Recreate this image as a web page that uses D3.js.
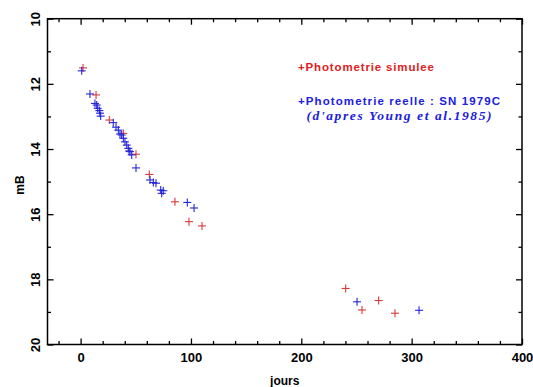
<!DOCTYPE html>
<html><head><meta charset="utf-8">
<script src="https://cdn.jsdelivr.net/npm/d3@7/dist/d3.min.js"></script>
<style>body{margin:0;background:#fff}svg{display:block}</style>
</head><body>
<svg id="c" width="533" height="387"></svg>
<script>
// Simulated photometry (red)
const simDays = [2.2, 14.0, 26.0, 38.7, 50.2, 62.3, 85.5, 98.2, 110.0, 240.2, 255.0, 270.1, 284.9];
const simMag  = [11.51, 12.34, 13.11, 13.52, 14.16, 14.78, 15.62, 16.23, 16.36, 18.28, 18.94, 18.65, 19.04];
// Real photometry SN 1979C (blue)
const obsDays = [1.0, 8.5, 13.0, 14.6, 15.5, 17.0, 17.6, 18.2, 29.6, 32.1, 34.2, 35.7, 37.2, 38.7, 40.2, 41.8, 43.2, 43.9, 44.8, 46.3, 50.2, 62.9, 65.9, 68.3, 72.6, 74.9, 73.5, 96.7, 102.8, 250.5, 306.7];
const obsMag  = [11.60, 12.31, 12.60, 12.65, 12.75, 12.82, 12.90, 12.99, 13.19, 13.33, 13.42, 13.54, 13.57, 13.67, 13.78, 13.88, 13.98, 14.06, 14.08, 14.18, 14.58, 14.95, 15.03, 15.05, 15.26, 15.28, 15.36, 15.64, 15.81, 18.69, 18.95];
const xMajor = [0, 100, 200, 300, 400];
const xMinor = [-20, 20, 40, 60, 80, 120, 140, 160, 180, 220, 240, 260, 280, 320, 340, 360, 380];
const yMajor = [10, 12, 14, 16, 18, 20];
const yMinor = [11, 13, 15, 17, 19];
const legendLabels = ["+Photometrie simulee", "+Photometrie reelle : SN 1979C", "(d'apres Young et al.1985)"];

const svg = d3.select("#c");
const L = 47.5, R = 522, T = 18.7, B = 344.5;
const x = d3.scaleLinear().domain([-30, 400]).range([L, R]);
const y = d3.scaleLinear().domain([10, 20]).range([T, B]);
const font = "'Liberation Sans', Arial, Helvetica, sans-serif";

function styleAxis(g) {
  g.select(".domain").remove();
  g.selectAll("line").attr("stroke", "#000").attr("stroke-width", 1.3);
  g.selectAll("text").attr("font-family", font).attr("font-size", 13).attr("font-weight", "bold").attr("fill", "#000");
}
// bottom
svg.append("g").attr("transform", `translate(0,${B})`)
  .call(d3.axisBottom(x).tickValues(xMajor).tickSize(-6).tickPadding(8).tickFormat(d3.format("d"))).call(styleAxis);
svg.append("g").attr("transform", `translate(0,${B})`)
  .call(d3.axisBottom(x).tickValues(xMinor).tickSize(-3.5).tickFormat("")).call(styleAxis);
// top
svg.append("g").attr("transform", `translate(0,${T})`)
  .call(d3.axisTop(x).tickValues(xMajor).tickSize(-6).tickFormat("")).call(styleAxis);
svg.append("g").attr("transform", `translate(0,${T})`)
  .call(d3.axisTop(x).tickValues(xMinor).tickSize(-3.5).tickFormat("")).call(styleAxis);
// left
const gl = svg.append("g").attr("transform", `translate(${L},0)`)
  .call(d3.axisLeft(y).tickValues(yMajor).tickSize(-6).tickFormat(d3.format("d"))).call(styleAxis);
gl.selectAll("text").attr("x", 0).attr("dy", "0.36em").attr("text-anchor", "middle")
  .attr("transform", "translate(-12,0) rotate(-90)");
svg.append("g").attr("transform", `translate(${L},0)`)
  .call(d3.axisLeft(y).tickValues(yMinor).tickSize(-3.5).tickFormat("")).call(styleAxis);
// right
svg.append("g").attr("transform", `translate(${R},0)`)
  .call(d3.axisRight(y).tickValues(yMajor).tickSize(-6).tickFormat("")).call(styleAxis);
svg.append("g").attr("transform", `translate(${R},0)`)
  .call(d3.axisRight(y).tickValues(yMinor).tickSize(-3.5).tickFormat("")).call(styleAxis);

svg.append("rect").attr("x", L).attr("y", T).attr("width", R - L).attr("height", B - T)
  .attr("fill", "none").attr("stroke", "#000").attr("stroke-width", 1.5);

// axis titles
svg.append("text").attr("x", (L + R) / 2).attr("y", 385).attr("text-anchor", "middle")
  .attr("font-family", font).attr("font-size", 12).attr("font-weight", "bold").text("jours");
svg.append("text").attr("transform", "translate(24,185) rotate(-90)").attr("text-anchor", "middle")
  .attr("font-family", font).attr("font-size", 12).attr("font-weight", "bold").text("mB");

// markers
function plus(data, color) {
  const h = 4;
  const g = svg.append("g").attr("stroke", color).attr("stroke-width", 1.1);
  data.forEach(([d, m]) => {
    g.append("line").attr("x1", x(d) - h).attr("x2", x(d) + h).attr("y1", y(m)).attr("y2", y(m));
    g.append("line").attr("x1", x(d)).attr("x2", x(d)).attr("y1", y(m) - h).attr("y2", y(m) + h);
  });
}
plus(simDays.map((d, i) => [d, simMag[i]]), "#d83838");
plus(obsDays.map((d, i) => [d, obsMag[i]]), "#2424d8");

// legend
svg.append("text").attr("x", 298).attr("y", 70.5).attr("fill", "#e02020")
  .attr("font-family", font).attr("font-size", 11.5).attr("font-weight", "bold")
  .attr("textLength", 136).attr("lengthAdjust", "spacing").text(legendLabels[0]);
svg.append("text").attr("x", 298).attr("y", 105).attr("fill", "#2020e0")
  .attr("font-family", font).attr("font-size", 11.5).attr("font-weight", "bold")
  .attr("textLength", 202).attr("lengthAdjust", "spacing").text(legendLabels[1]);
svg.append("text").attr("x", 306.5).attr("y", 120).attr("fill", "#2020e0")
  .attr("font-family", "'Liberation Serif', 'Times New Roman', serif").attr("font-size", 13.5)
  .attr("font-weight", "bold").attr("font-style", "italic")
  .attr("textLength", 185).attr("lengthAdjust", "spacing").text(legendLabels[2]);
</script>
</body></html>
